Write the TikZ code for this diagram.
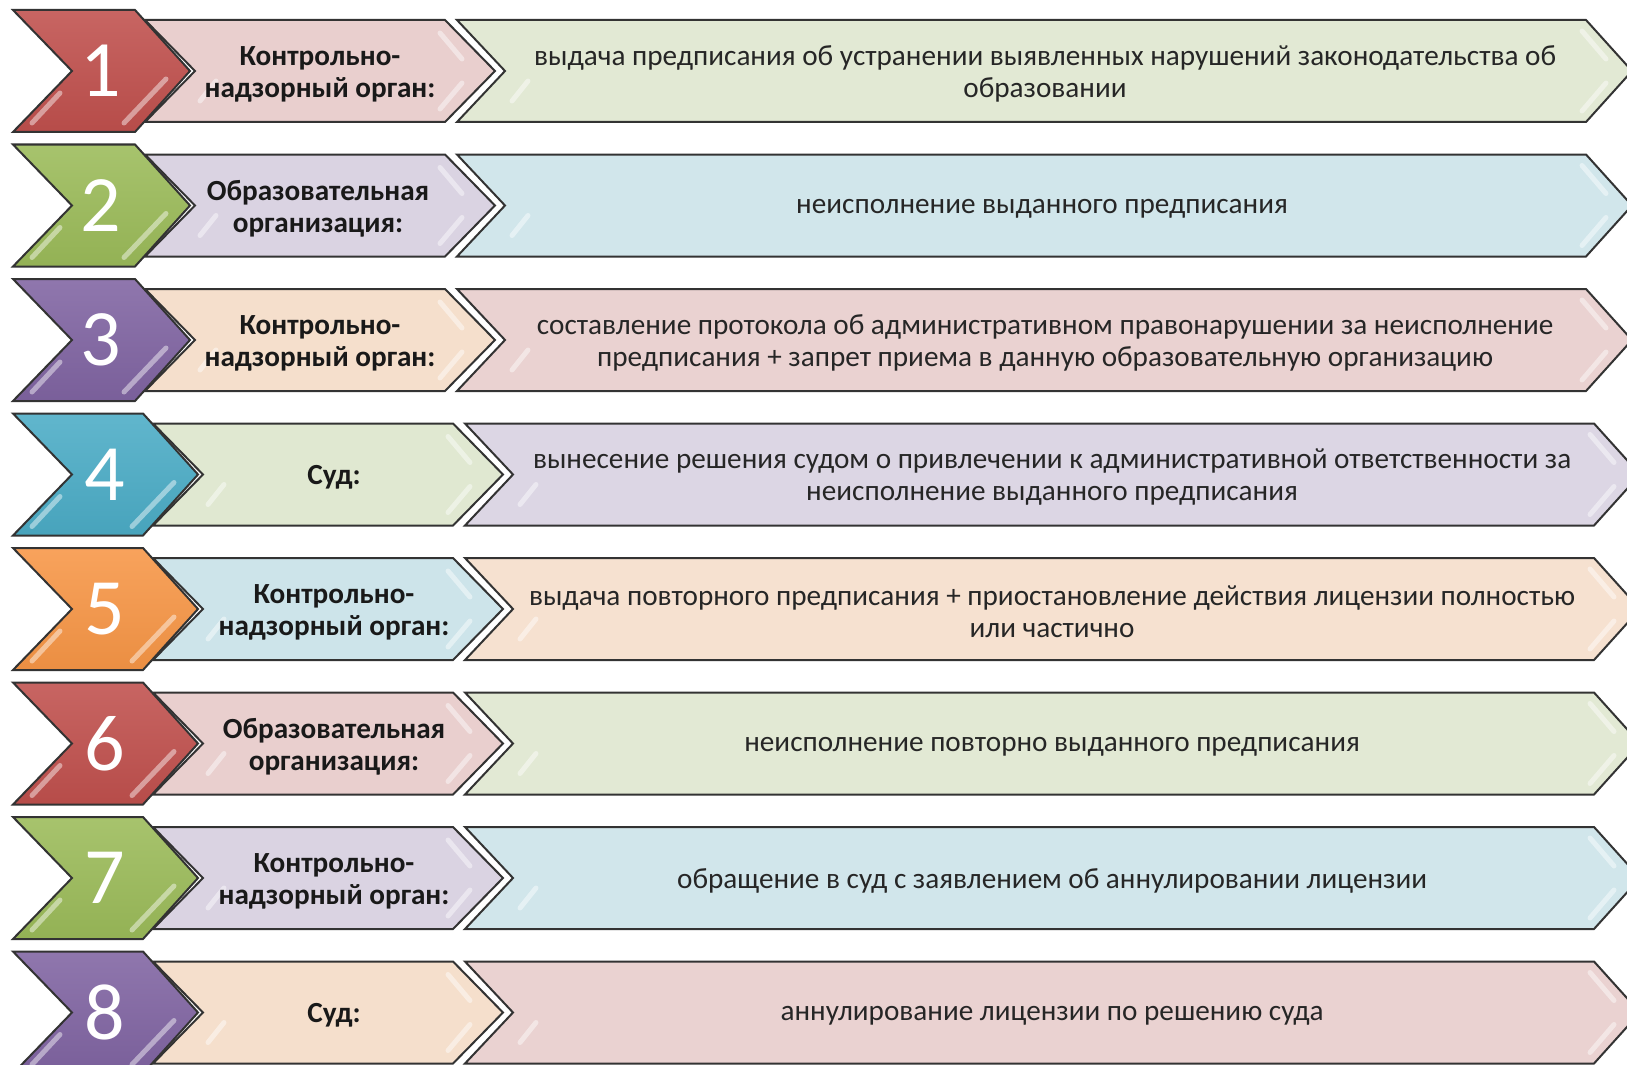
\documentclass[tikz,border=0pt]{standalone}
\usepackage{fontspec}
\setmainfont{Carlito}
\definecolor{offred}{HTML}{C0504D}
\definecolor{offgreen}{HTML}{9BBB59}
\definecolor{offpurple}{HTML}{8064A2}
\definecolor{offblue}{HTML}{4BACC6}
\definecolor{offorange}{HTML}{F79646}
\begin{document}
\begin{tikzpicture}[x=0.5pt, y=-0.5pt,
    outline/.style={draw=black!80, line width=1pt, line join=miter},
    gloss/.style={white, opacity=0.45, line width=2.5pt, line cap=round},
    numtext/.style={text=white, font=\fontsize{40}{40}\selectfont},
    whotext/.style={align=center, yshift=-1.5pt, text=black!90, font=\fontsize{14.6}{16}\selectfont\bfseries},
    whattext/.style={align=center, yshift=-1.5pt, text=black!85, font=\fontsize{14.6}{16}\selectfont}]
    % Draw frame
    \useasboundingbox (0,0) rectangle (1627,1065);
    \clip (0,0) rectangle (1627,1065);

    % Draw the eight rows of chevrons
    \foreach \i/\dx/\nc/\mc/\rc in {1/0/offred/offred/offgreen, 2/0/offgreen/offpurple/offblue,
        3/0/offpurple/offorange/offred, 4/8/offblue/offgreen/offpurple,
        5/8/offorange/offblue/offorange, 6/8/offred/offred/offgreen,
        7/8/offgreen/offpurple/offblue, 8/8/offpurple/offorange/offred}{
        \pgfmathsetmacro{\c}{71+134.5*(\i-1)}
        % right box
        \draw[outline, fill=\rc!22!white!97!black] (457+\dx,\c-51) -- (1586+\dx,\c-51) -- (1632+\dx,\c)
            -- (1586+\dx,\c+51) -- (457+\dx,\c+51) -- (505+\dx,\c) -- cycle;
        \draw[gloss] (1582+\dx,\c-40) -- (1606+\dx,\c-12);
        \draw[gloss] (1606+\dx,\c+12) -- (1582+\dx,\c+40);
        \draw[gloss] (512+\dx,\c+30) -- (528+\dx,\c+10);
        % middle box
        \draw[outline, fill=\mc!24!white!97!black] (145+\dx,\c-51) -- (445+\dx,\c-51) -- (495+\dx,\c)
            -- (445+\dx,\c+51) -- (145+\dx,\c+51) -- (195+\dx,\c) -- cycle;
        \draw[gloss] (440+\dx,\c-38) -- (462+\dx,\c-12);
        \draw[gloss] (462+\dx,\c+12) -- (440+\dx,\c+38);
        \draw[gloss] (200+\dx,\c+30) -- (216+\dx,\c+10);
        % number chevron
        \draw[outline, top color=\nc!88!white, bottom color=\nc!95!black] (13,\c-61) -- (135+\dx,\c-61)
            -- (190+\dx,\c) -- (135+\dx,\c+61) -- (13,\c+61) -- (72,\c) -- cycle;
        \draw[gloss] (32,\c+52) -- (60,\c+22);
        \draw[gloss] (124+\dx,\c+52) -- (166+\dx,\c+8);
        \node[numtext] (num\i) at (101+\dx/2,\c) {\i};
    }

    % Draw labels of the middle boxes
    \node[whotext] (who1) at (320,71) {Контрольно-\\надзорный орган:};
    \node[whotext] (who2) at (318,205.5) {Образовательная\\организация:};
    \node[whotext] (who3) at (320,340) {Контрольно-\\надзорный орган:};
    \node[whotext] (who4) at (334,474.5) {Суд:};
    \node[whotext] (who5) at (334,609) {Контрольно-\\надзорный орган:};
    \node[whotext] (who6) at (334,743.5) {Образовательная\\организация:};
    \node[whotext] (who7) at (334,878) {Контрольно-\\надзорный орган:};
    \node[whotext] (who8) at (334,1012.5) {Суд:};

    % Draw labels of the right boxes
    \node[whattext] (what1) at (1045,71) {выдача предписания об устранении выявленных нарушений законодательства об\\образовании};
    \node[whattext] (what2) at (1042,205.5) {неисполнение выданного предписания};
    \node[whattext] (what3) at (1045,340) {составление протокола об административном правонарушении за неисполнение\\предписания + запрет приема в данную образовательную организацию};
    \node[whattext] (what4) at (1052,474.5) {вынесение решения судом о привлечении к административной ответственности за\\неисполнение выданного предписания};
    \node[whattext] (what5) at (1052,609) {выдача повторного предписания + приостановление действия лицензии полностью\\или частично};
    \node[whattext] (what6) at (1052,743.5) {неисполнение повторно выданного предписания};
    \node[whattext] (what7) at (1052,878) {обращение в суд с заявлением об аннулировании лицензии};
    \node[whattext] (what8) at (1052,1012.5) {аннулирование лицензии по решению суда};
\end{tikzpicture}
\end{document}
